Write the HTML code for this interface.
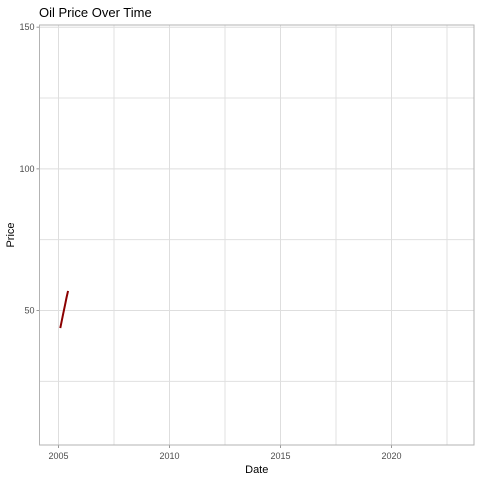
<!DOCTYPE html>
<html><head><meta charset="utf-8"><style>
body{margin:0;background:#fff;font-family:"Liberation Sans",Arial,sans-serif}
</style></head><body>
<svg id="c" width="480" height="480" xmlns="http://www.w3.org/2000/svg"></svg>
<script>
const dates=[2005.08,2005.15,2005.22,2005.29,2005.36,2005.43];
const prices=[43.8,46.5,49.2,51.8,54.5,56.9];
const xTicks=[2005,2010,2015,2020];
const yTicks=[50,100,150];
const xMinor=[2007.5,2012.5,2017.5,2022.5];
const yMinor=[25,75,125];
const L=39.5,R=474,T=25,B=445;
const x=v=>58.5+(v-2005)*22.2;
const y=v=>310.5-(v-50)*2.833;
const svg=document.getElementById('c');
const NS='http://www.w3.org/2000/svg';
function mk(tag,attrs,name,parent){const e=document.createElementNS(NS,tag);for(const k in attrs)e.setAttribute(k,attrs[k]);


(parent||svg).appendChild(e);return e;}
mk('rect',{x:L,y:T,width:R-L,height:B-T,fill:'#fff'},'plot-panel');
xMinor.forEach(v=>mk('line',{x1:x(v),x2:x(v),y1:T,y2:B,stroke:'#e0e0e0','stroke-width':1},'x-minor-grid'));
yMinor.forEach(v=>mk('line',{x1:L,x2:R,y1:y(v),y2:y(v),stroke:'#e0e0e0','stroke-width':1},'y-minor-grid'));
xTicks.forEach(v=>{mk('line',{x1:x(v),x2:x(v),y1:T,y2:B,stroke:'#dedede','stroke-width':1},'x-major-grid');
mk('line',{x1:x(v),x2:x(v),y1:B,y2:B+3,stroke:'#999','stroke-width':1},'x-tick');
const t=mk('text',{x:x(v),y:B+14,'text-anchor':'middle','font-size':9,fill:'#4d4d4d'},'x-tick-label');t.textContent=v;});
yTicks.forEach(v=>{mk('line',{x1:L,x2:R,y1:y(v),y2:y(v),stroke:'#dedede','stroke-width':1},'y-major-grid');
mk('line',{x1:L-3,x2:L,y1:y(v),y2:y(v),stroke:'#999','stroke-width':1},'y-tick');
const t=mk('text',{x:L-5,y:y(v)+3,'text-anchor':'end','font-size':9,fill:'#4d4d4d'},'y-tick-label');t.textContent=v;});
mk('rect',{x:L,y:T,width:R-L,height:B-T,fill:'none',stroke:'#b3b3b3','stroke-width':1},'panel-border');
mk('polyline',{points:dates.map((d,i)=>x(d)+','+y(prices[i])).join(' '),fill:'none',stroke:'#8b0000','stroke-width':2},'price-line');
let t=mk('text',{x:(L+R)/2,y:473,'text-anchor':'middle','font-size':11,fill:'#000'},'x-axis-title');t.textContent='Date';
t=mk('text',{x:14,y:(T+B)/2,'text-anchor':'middle','font-size':11,fill:'#000',transform:`rotate(-90 14 ${(T+B)/2})`},'y-axis-title');t.textContent='Price';
t=mk('text',{x:39,y:17,'font-size':13,fill:'#000'},'chart-title');t.textContent='Oil Price Over Time';
</script>
</body></html>
